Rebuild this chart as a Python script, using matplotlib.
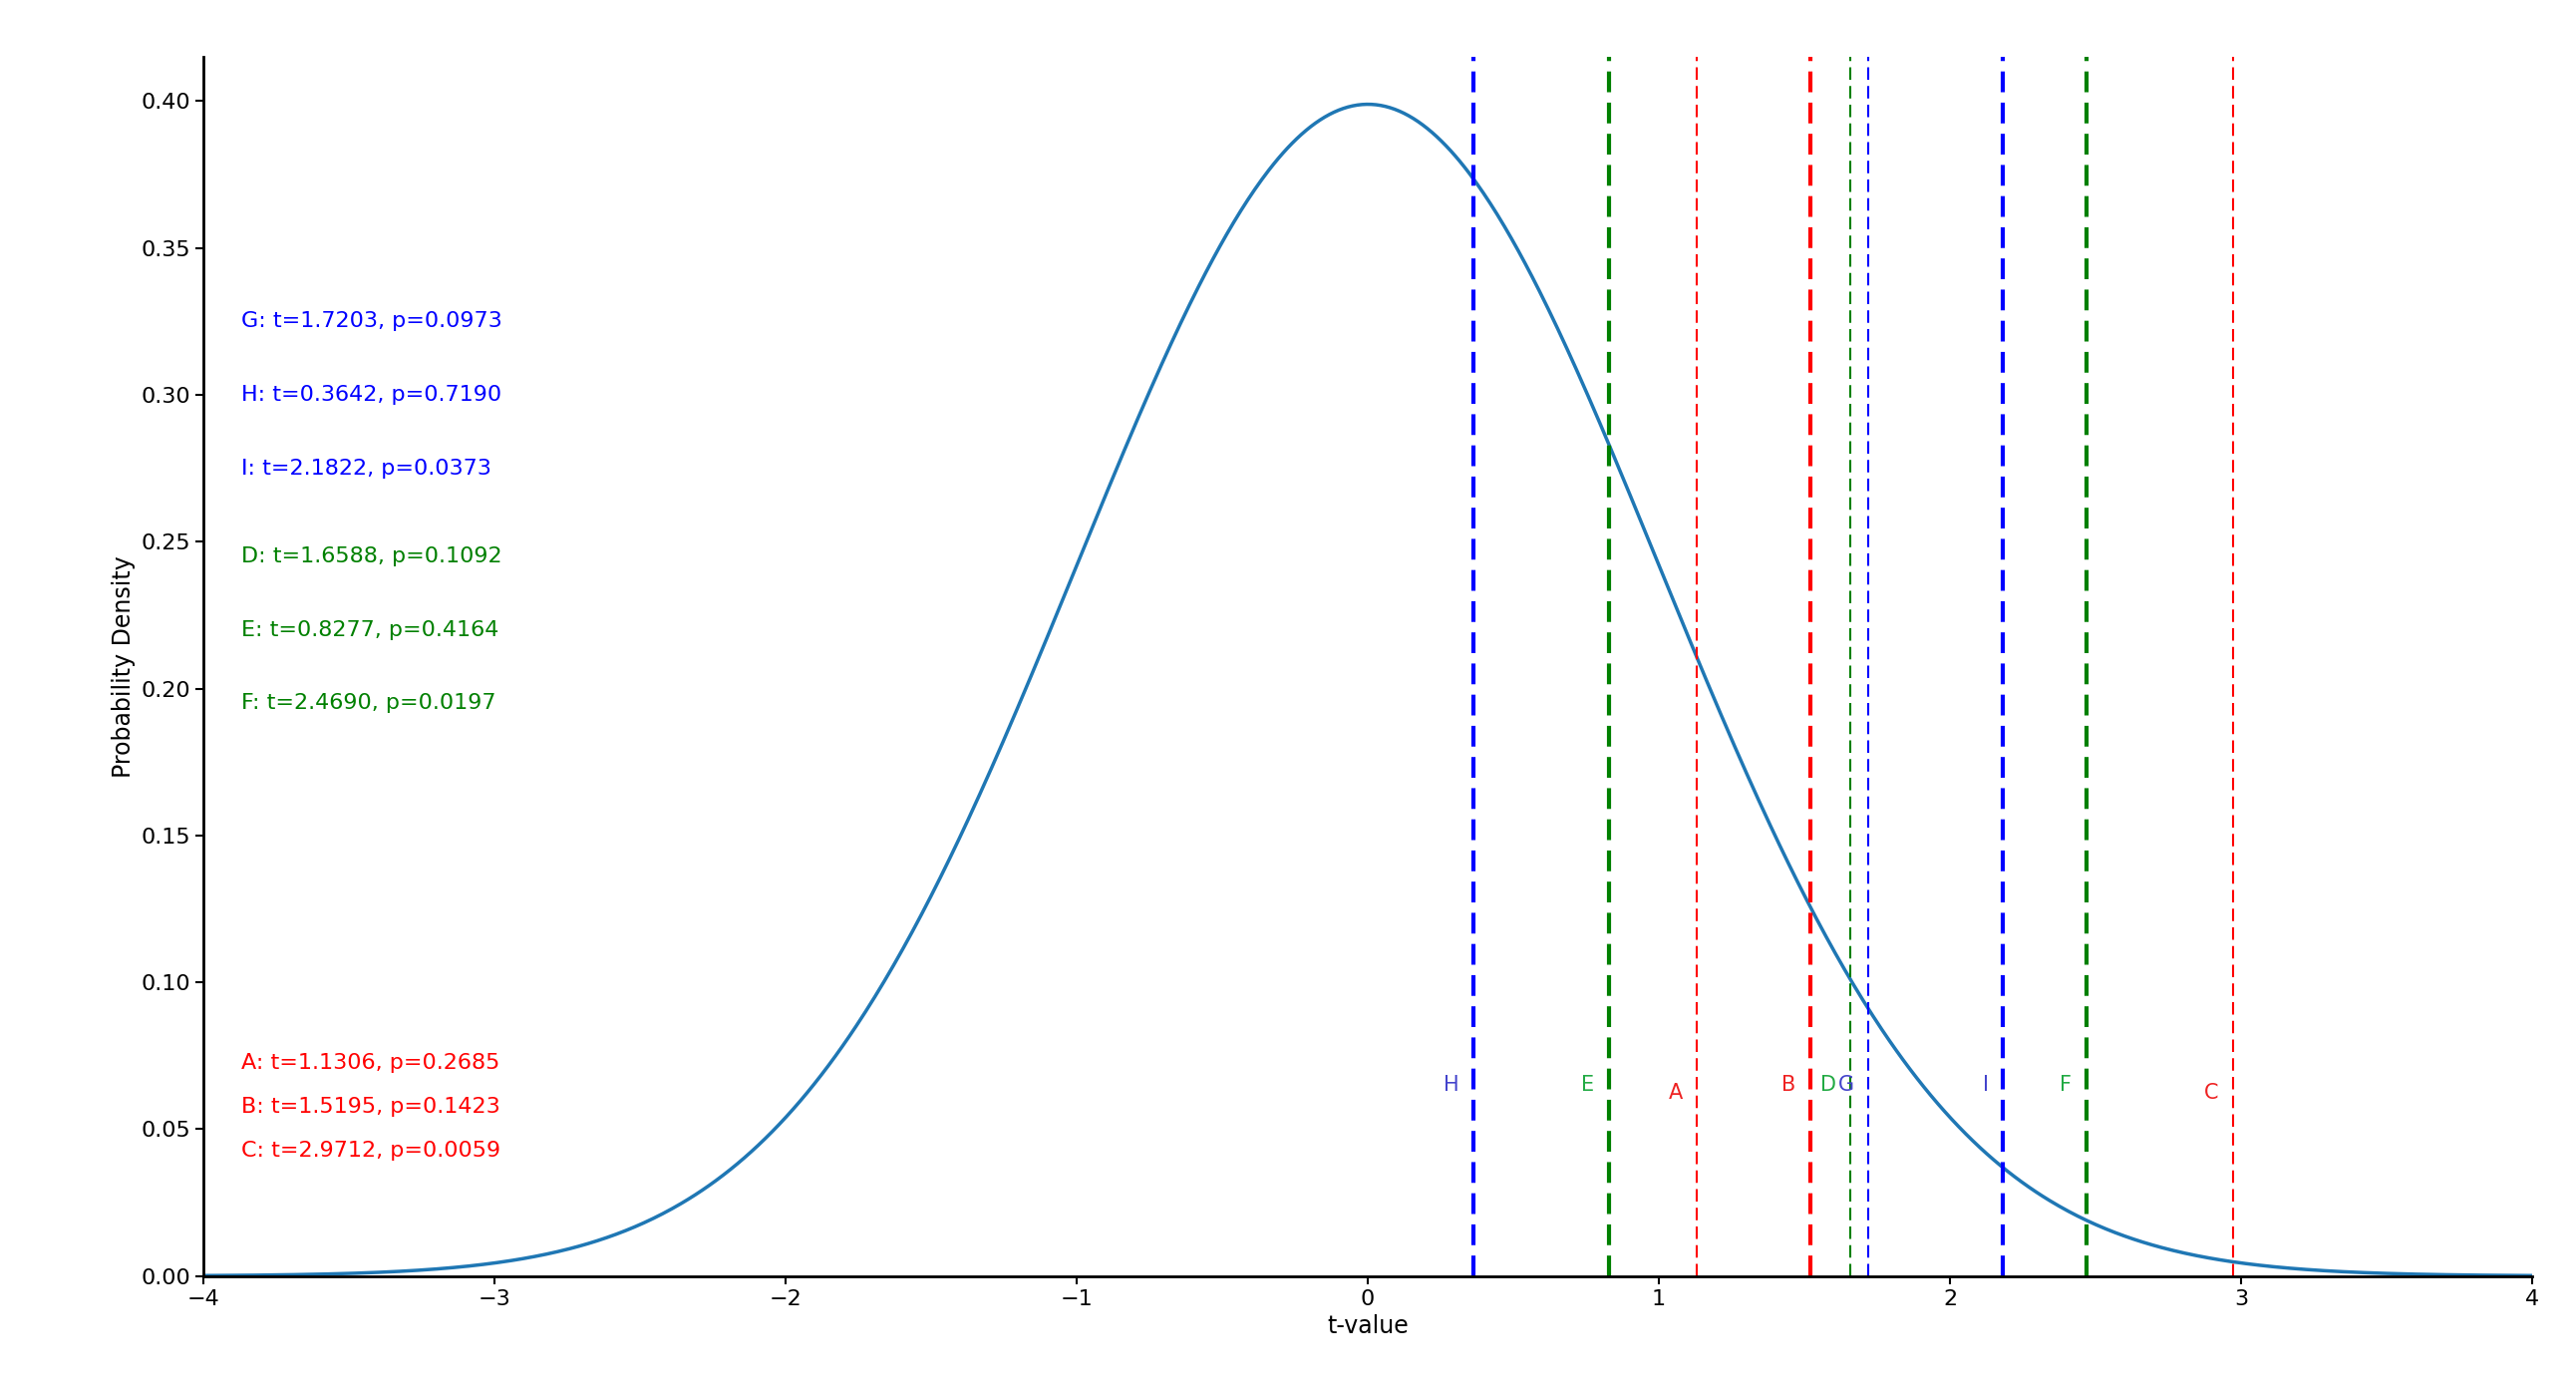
import numpy as np
import matplotlib
matplotlib.use("Agg")
import matplotlib.pyplot as plt

names = ["A", "B", "C", "D", "E", "F", "G", "H", "I"]
tvals = [1.1306, 1.5195, 2.9712, 1.6588, 0.8277, 2.4690, 1.7203, 0.3642, 2.1822]
pvals = [0.2685, 0.1423, 0.0059, 0.1092, 0.4164, 0.0197, 0.0973, 0.7190, 0.0373]
colors = ["red", "red", "red", "green", "green", "green", "blue", "blue", "blue"]
labcolors = ["#ee2222", "#ee2222", "#ee2222", "#22aa44", "#22aa44", "#22aa44", "#4444cc", "#4444cc", "#4444cc"]
widths = [1.5, 3, 1.5, 1.5, 3, 3, 1.5, 3, 3]
text_y = {"G": 0.325, "H": 0.300, "I": 0.275, "D": 0.245, "E": 0.220, "F": 0.195,
          "A": 0.0725, "B": 0.0575, "C": 0.0425}
label_y = {"A": 0.0625, "C": 0.0625}

fig = plt.figure(figsize=(25.84, 13.97), dpi=100)
ax = fig.add_axes([0.079, 0.084, 0.904, 0.875])
x = np.linspace(-4, 4, 1000)
ax.plot(x, np.exp(-x**2 / 2) / np.sqrt(2 * np.pi), color="#1f77b4", lw=2.5)
for n, t, p, c, lc, w in zip(names, tvals, pvals, colors, labcolors, widths):
    ax.axvline(t, color=c, ls="--", lw=w, dashes=(5, 2.5) if w > 2 else (6, 3))
    ax.text(t - 0.05, label_y.get(n, 0.065), n, color=lc, ha="right", va="center", fontsize=15)
    ax.text(-3.87, text_y[n], f"{n}: t={t:.4f}, p={p:.4f}", color=c, fontsize=16, va="center")
ax.set_xlim(-4, 4)
ax.set_ylim(0, 0.415)
ax.set_yticks(np.arange(0, 0.41, 0.05))
ax.set_yticklabels([f"{v:.2f}" for v in np.arange(0, 0.41, 0.05)])
ax.tick_params(labelsize=16, width=1.5, length=6)
ax.set_xlabel("t-value", fontsize=17)
ax.set_ylabel("Probability Density", fontsize=17)
for s in ["top", "right"]:
    ax.spines[s].set_visible(False)
for s in ["left", "bottom"]:
    ax.spines[s].set_linewidth(2)
fig.savefig("out.png", dpi=100)
